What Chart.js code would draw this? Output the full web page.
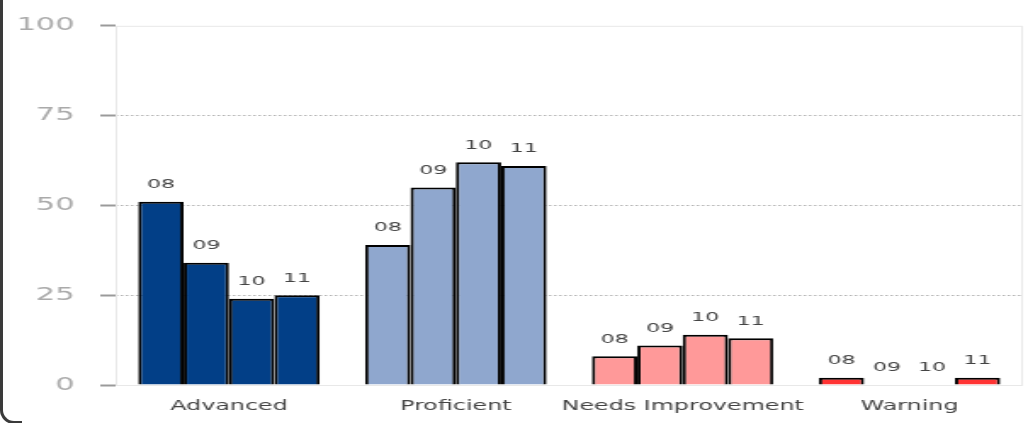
<!DOCTYPE html>
<html>
<head>
<meta charset="utf-8">
<script src="https://cdn.jsdelivr.net/npm/chart.js@4/dist/chart.umd.min.js"></script>
<style>
    html, body { margin: 0; padding: 0; background: #fff; overflow: hidden; }
    #wrap { position: relative; width: 1028px; height: 423px; }
    #edge {
        position: absolute; left: 0; top: -20px; width: 22px; height: 444px;
        box-sizing: border-box;
        border-left: 3px solid #3a3a3a; border-bottom: 3px solid #3a3a3a;
        border-bottom-left-radius: 14px;
    }
    canvas { position: absolute; left: 0; top: 0; }
</style>
</head>
<body>
<div id="wrap">
    <!-- canvas is drawn narrow and stretched wide, like the original image -->
    <canvas id="chart" width="605" height="423" style="width:1028px;height:423px"></canvas>
    <div id="edge"></div>
</div>
<script>
const categories = ["Advanced", "Proficient", "Needs Improvement", "Warning"];
const years = ["08", "09", "10", "11"];
const pct08 = [51, 39, 8, 2];
const pct09 = [34, 55, 11, 0];
const pct10 = [24, 62, 14, 0];
const pct11 = [25, 61, 13, 2];
const yTicks = [0, 25, 50, 75, 100];

const categoryColors = ["#023f87", "#8fa7ce", "#ff9999", "#ff3333"];
const fontFamily = "'DejaVu Sans', Verdana, sans-serif";

// labels "08".."11" over every bar
const barLabels = {
    id: "barLabels",
    afterDatasetsDraw(chart) {
        const ctx = chart.ctx;
        ctx.save();
        ctx.font = "13px " + fontFamily;
        ctx.fillStyle = "#444";
        ctx.textAlign = "center";
        ctx.textBaseline = "middle";
        chart.data.datasets.forEach(function (ds, i) {
            chart.getDatasetMeta(i).data.forEach(function (bar) {
                ctx.fillText(ds.label, bar.x, bar.y - 17);
            });
        });
        ctx.restore();
    }
};

// light frame round the plot area
const plotFrame = {
    id: "plotFrame",
    beforeDatasetsDraw(chart) {
        const a = chart.chartArea;
        const ctx = chart.ctx;
        ctx.save();
        ctx.strokeStyle = "#e8e8e8";
        ctx.lineWidth = 1;
        ctx.strokeRect(a.left + 0.5, a.top + 0.5, a.right - a.left - 1, a.bottom - a.top);
        ctx.restore();
    }
};

const seriesValues = [pct08, pct09, pct10, pct11];

let ctx = document.getElementById("chart").getContext("2d");
let chart = new Chart(ctx, {
    type: "bar",
    data: {
        labels: categories,
        datasets: years.map(function (y, i) {
            return {
                label: y,
                data: seriesValues[i],
                backgroundColor: categoryColors,
                borderColor: "#000",
                borderWidth: { top: 2, left: 2, right: 2, bottom: 0 },
                borderSkipped: false,
                barPercentage: 1,
                categoryPercentage: 0.8
            };
        })
    },
    options: {
        responsive: false,
        animation: false,
        layout: { padding: { top: 22, right: 3, bottom: 0, left: 0 } },
        plugins: {
            legend: { display: false },
            tooltip: { enabled: false }
        },
        scales: {
            x: {
                grid: { display: false, drawTicks: false },
                border: { display: false },
                ticks: {
                    color: "#444",
                    padding: 13,
                    maxRotation: 0,
                    autoSkip: false,
                    font: { family: fontFamily, size: 14 }
                },
                afterFit: function (scale) { scale.height = 38; }
            },
            y: {
                min: 0,
                max: 100,
                afterBuildTicks: function (scale) {
                    scale.ticks = yTicks.map(function (v) { return { value: v }; });
                },
                grid: {
                    color: function (c) {
                        return c.tick && c.tick.value > 0 && c.tick.value < 100 ? "#b5b5b5" : "rgba(0,0,0,0)";
                    },
                    lineWidth: 1,
                    tickColor: "#9a9a9a",
                    tickWidth: 2,
                    tickLength: 9,
                    tickBorderDash: []
                },
                border: { display: false, dash: [1.5, 1.5] },
                ticks: {
                    color: "#aaa",
                    padding: 15,
                    font: { family: fontFamily, size: 18 }
                },
                afterFit: function (scale) { scale.width = 68; }
            }
        }
    },
    plugins: [plotFrame, barLabels]
});
</script>
</body>
</html>
